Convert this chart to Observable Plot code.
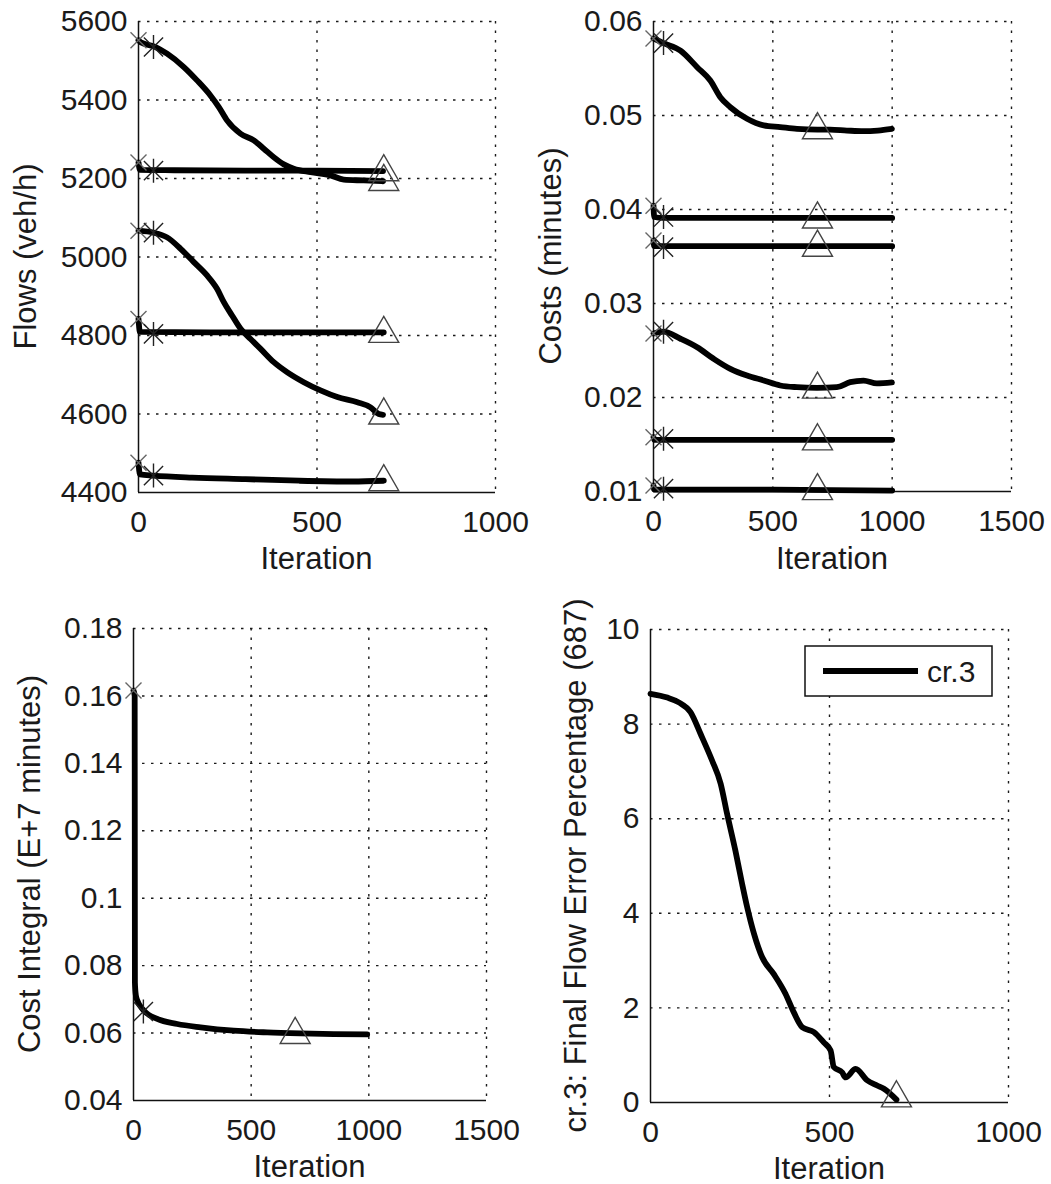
<!DOCTYPE html>
<html>
<head>
<meta charset="utf-8">
<script src="https://cdn.jsdelivr.net/npm/d3@7"></script>
<script src="https://cdn.jsdelivr.net/npm/@observablehq/plot@0.6"></script>
<style>
  body { margin: 0; background: #fff; }
  #root { position: relative; width: 1051px; height: 1184px; overflow: hidden; background: #fff; }
  #root svg { position: absolute; overflow: visible; }
</style>
</head>
<body>
<div id="root"></div>
<script>
// ---------------- DATA ----------------
// marker iterations: start (x), star, triangle
const markerIters = [0, 42, 687];

// Panel 1: Flows (veh/h)
const flowXTicks = [0, 500, 1000];
const flowYTicks = [4400, 4600, 4800, 5000, 5200, 5400, 5600];
const flowA_iter = [0, 6, 48, 80, 127, 164, 202, 225, 248, 286, 323, 351, 379, 407, 435, 482, 538, 575, 631, 685];
const flowA_val  = [5552, 5547, 5535, 5518, 5484, 5450, 5411, 5382, 5348, 5314, 5297, 5276, 5254, 5236, 5225, 5216, 5208, 5197, 5195, 5193];
const flowB_iter = [0, 4, 100, 300, 500, 685];
const flowB_val  = [5241, 5222, 5221, 5220, 5220, 5219];
const flowC_iter = [0, 42, 80, 118, 155, 192, 220, 239, 262, 286, 314, 342, 379, 417, 463, 510, 557, 613, 650, 673, 685];
const flowC_val  = [5067, 5062, 5050, 5021, 4987, 4953, 4919, 4885, 4851, 4817, 4791, 4766, 4732, 4706, 4681, 4660, 4643, 4630, 4617, 4600, 4598];
const flowD_iter = [0, 4, 200, 400, 687];
const flowD_val  = [4842, 4809, 4808, 4808, 4808];
const flowE_iter = [0, 4, 42, 150, 300, 450, 600, 687];
const flowE_val  = [4476, 4446, 4443, 4438, 4434, 4430, 4428, 4430];
const flowStart = [5552, 5241, 5067, 4842, 4476];
const flowStar  = [5535, 5220, 5062, 4804, 4443];
const flowTri   = [5195, 5220, 4600, 4808, 4430];

// Panel 2: Costs (minutes)
const costXTicks = [0, 500, 1000, 1500];
const costYTicks = [0.01, 0.02, 0.03, 0.04, 0.05, 0.06];
const costA_iter = [0, 42, 113, 183, 238, 280, 322, 392, 462, 531, 601, 687, 740, 810, 880, 940, 999];
const costA_val  = [0.0582, 0.0577, 0.0569, 0.05514, 0.05372, 0.05195, 0.05088, 0.04965, 0.04894, 0.04876, 0.04858, 0.0485, 0.0485, 0.0484, 0.04833, 0.0484, 0.04858];
const costB_iter = [0, 3, 42, 500, 1000];
const costB_val  = [0.0404, 0.0392, 0.0391, 0.0391, 0.0391];
const costC_iter = [0, 3, 500, 1000];
const costC_val  = [0.0367, 0.0361, 0.0361, 0.0361];
const costD_iter = [0, 42, 113, 183, 252, 322, 392, 462, 531, 601, 685, 768, 824, 880, 936, 999];
const costD_val  = [0.0268, 0.0270, 0.02625, 0.02535, 0.02412, 0.02305, 0.02234, 0.02181, 0.02128, 0.0211, 0.02103, 0.0211, 0.02163, 0.0218, 0.0215, 0.0216];
const costE_iter = [0, 3, 500, 1000];
const costE_val  = [0.01578, 0.0155, 0.0155, 0.0155];
const costF_iter = [0, 3, 500, 1000];
const costF_val  = [0.01064, 0.0102, 0.0102, 0.0101];
const costStart = [0.0582, 0.0404, 0.0367, 0.0268, 0.01578, 0.01064];
const costStar  = [0.0577, 0.0392, 0.0360, 0.0270, 0.0156, 0.0103];
const costTri   = [0.0486, 0.0391, 0.0361, 0.0210, 0.0155, 0.0102];

// Panel 3: Cost Integral (E+7 minutes)
const intXTicks = [0, 500, 1000, 1500];
const intYTicks = [0.04, 0.06, 0.08, 0.1, 0.12, 0.14, 0.16, 0.18];
const int_iter = [0, 5, 6, 10, 16, 44, 101, 186, 285, 426, 568, 710, 851, 993];
const int_val  = [0.1616, 0.1600, 0.0750, 0.0712, 0.0697, 0.0667, 0.0642, 0.0627, 0.0617, 0.0607, 0.0602, 0.0599, 0.0597, 0.0596];
const intStart = [0.1616];
const intStar  = [0.0664];
const intTri   = [0.0599];

// Panel 4: cr.3 Final Flow Error Percentage (687)
const errXTicks = [0, 500, 1000];
const errYTicks = [0, 2, 4, 6, 8, 10];
const err_iter = [0, 47, 79, 112, 140, 172, 196, 214, 237, 256, 270, 289, 312, 344, 377, 400, 424, 456, 484, 503, 512, 535, 545, 573, 605, 633, 652, 687];
const err_val  = [8.64, 8.56, 8.46, 8.25, 7.79, 7.23, 6.74, 6.10, 5.33, 4.62, 4.13, 3.57, 3.07, 2.72, 2.30, 1.91, 1.59, 1.49, 1.27, 1.10, 0.75, 0.64, 0.53, 0.71, 0.47, 0.36, 0.29, 0.06];
const errTri = [0.12];
const legendLabels = ["cr.3"];

// ---------------- DRAWING ----------------
const FONT = '"Liberation Sans", Arial, Helvetica, sans-serif';
const root = document.getElementById("root");

const symX = {draw(c, s) { const r = Math.sqrt(s / Math.PI);
  c.moveTo(-r, -r); c.lineTo(r, r); c.moveTo(-r, r); c.lineTo(r, -r); }};
const symStar = {draw(c, s) { const r = Math.sqrt(s / Math.PI), d = r * 0.8;
  c.moveTo(0, -r); c.lineTo(0, r); c.moveTo(-d, -d); c.lineTo(d, d); c.moveTo(-d, d); c.lineTo(d, -d); }};
const symTri = {draw(c, s) { const r = Math.sqrt(s / Math.PI);
  c.moveTo(0, -r * 1.07); c.lineTo(r, r * 0.67); c.lineTo(-r, r * 0.67); c.closePath(); }};

function panel(cfg) {
  const marks = [
    Plot.ruleY(cfg.yTicks.filter(t => t !== cfg.yDomain[0]), {stroke: "#1a1a1a", strokeWidth: 1.4, strokeDasharray: "2.5,6.5"}),
    Plot.ruleX(cfg.xTicks.filter(t => t !== cfg.xDomain[0]), {stroke: "#1a1a1a", strokeWidth: 1.4, strokeDasharray: "2.5,7"}),
    Plot.ruleX([cfg.xDomain[0]], {stroke: "#111", strokeWidth: 1.5}),
    Plot.ruleY([cfg.yDomain[0]], {stroke: "#111", strokeWidth: 1.5})
  ];
  for (const s of cfg.series) {
    marks.push(Plot.line(s.val, {x: (d, i) => s.iter[i], y: d => d, stroke: "#000", strokeWidth: 5.8,
      curve: "monotone-x", strokeLinejoin: "round", strokeLinecap: "round"}));
  }
  if (cfg.startVals) marks.push(Plot.dot(cfg.startVals, {x: () => markerIters[0], y: d => d, symbol: symX, r: 8,
    fill: "none", stroke: "#666", strokeWidth: 1.4}));
  if (cfg.starVals) marks.push(Plot.dot(cfg.starVals, {x: () => markerIters[1], y: d => d, symbol: symStar, r: 12,
    fill: "none", stroke: "#222", strokeWidth: 1.4}));
  if (cfg.triVals) marks.push(Plot.dot(cfg.triVals, {x: () => markerIters[2], y: d => d, symbol: symTri, r: 15,
    fill: "none", stroke: "#444", strokeWidth: 1.4}));

  const svg = Plot.plot({
    width: cfg.width, height: cfg.height,
    marginLeft: cfg.m[0], marginTop: cfg.m[1], marginRight: cfg.m[2], marginBottom: cfg.m[3],
    style: {fontSize: "30px", fontFamily: FONT, color: "#1a1a1a", background: "transparent", overflow: "visible"},
    x: {domain: cfg.xDomain, ticks: cfg.xTicks, tickFormat: d => String(d), tickSize: 0, tickPadding: 18, label: null},
    y: {domain: cfg.yDomain, ticks: cfg.yTicks, tickFormat: d => String(d), tickSize: 0, tickPadding: 11, label: null},
    marks
  });
  svg.style.left = cfg.left + "px";
  svg.style.top = cfg.top + "px";
  const sel = d3.select(svg);
  sel.append("text")
    .attr("transform", `translate(${cfg.yLabelPos[0]},${cfg.yLabelPos[1]}) rotate(-90)`)
    .attr("text-anchor", "middle").attr("dy", "0.26em")
    .attr("font-size", 31).attr("font-family", FONT).attr("fill", "#1a1a1a")
    .text(cfg.yLabel);
  sel.append("text")
    .attr("x", cfg.xLabelPos[0]).attr("y", cfg.xLabelPos[1])
    .attr("text-anchor", "middle")
    .attr("font-size", 31).attr("font-family", FONT).attr("fill", "#1a1a1a")
    .text("Iteration");
  root.appendChild(svg);
  return svg;
}

panel({
  left: 0, top: 0, width: 520, height: 590, m: [138, 21, 25, 98],
  xDomain: [0, 1000], yDomain: [4400, 5600], xTicks: flowXTicks, yTicks: flowYTicks,
  series: [
    {iter: flowA_iter, val: flowA_val}, {iter: flowB_iter, val: flowB_val}, {iter: flowC_iter, val: flowC_val},
    {iter: flowD_iter, val: flowD_val}, {iter: flowE_iter, val: flowE_val}
  ],
  startVals: flowStart, starVals: flowStar, triVals: flowTri,
  yLabel: "Flows (veh/h)", yLabelPos: [27.5, 256.5], xLabelPos: [316.5, 569]
});

panel({
  left: 530, top: 0, width: 521, height: 590, m: [123, 21, 40, 99],
  xDomain: [0, 1500], yDomain: [0.01, 0.06], xTicks: costXTicks, yTicks: costYTicks,
  series: [
    {iter: costA_iter, val: costA_val}, {iter: costB_iter, val: costB_val}, {iter: costC_iter, val: costC_val},
    {iter: costD_iter, val: costD_val}, {iter: costE_iter, val: costE_val}, {iter: costF_iter, val: costF_val}
  ],
  startVals: costStart, starVals: costStar, triVals: costTri,
  yLabel: "Costs (minutes)", yLabelPos: [22.5, 256], xLabelPos: [302, 569]
});

panel({
  left: 0, top: 590, width: 530, height: 594, m: [133, 38, 44, 84],
  xDomain: [0, 1500], yDomain: [0.04, 0.18], xTicks: intXTicks, yTicks: intYTicks,
  series: [{iter: int_iter, val: int_val}],
  startVals: intStart, starVals: intStar, triVals: intTri,
  yLabel: "Cost Integral (E+7 minutes)", yLabelPos: [31.7, 274], xLabelPos: [309.5, 587]
});

panel({
  left: 530, top: 590, width: 521, height: 594, m: [120, 39, 43, 82],
  xDomain: [0, 1000], yDomain: [0, 10], xTicks: errXTicks, yTicks: errYTicks,
  series: [{iter: err_iter, val: err_val}],
  triVals: errTri,
  yLabel: "cr.3: Final Flow Error Percentage (687)", yLabelPos: [47.5, 275.5], xLabelPos: [299, 588.5]
});

// legend (inside panel 4)
const lg = d3.select(root).append("svg")
  .attr("width", 190).attr("height", 53)
  .style("left", "804px").style("top", "645px");
lg.append("rect").attr("x", 1).attr("y", 1).attr("width", 187).attr("height", 50)
  .attr("fill", "#fff").attr("stroke", "#111").attr("stroke-width", 1.5);
lg.append("line").attr("x1", 19).attr("x2", 114).attr("y1", 26).attr("y2", 26)
  .attr("stroke", "#000").attr("stroke-width", 6);
lg.append("text").attr("x", 123).attr("y", 37).attr("font-size", 30)
  .attr("font-family", FONT).attr("fill", "#1a1a1a").text(legendLabels[0]);
</script>
</body>
</html>
